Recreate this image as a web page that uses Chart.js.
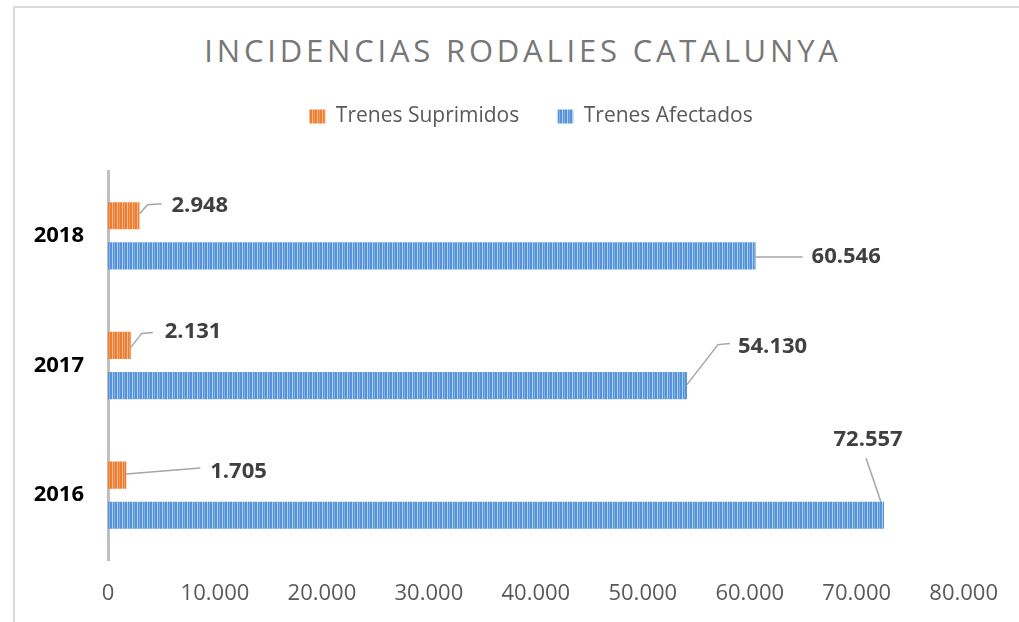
<!DOCTYPE html>
<html>
<head>
<meta charset="utf-8">
<script src="https://cdn.jsdelivr.net/npm/chart.js@4.4.1/dist/chart.umd.min.js"></script>
<style>
  html, body { margin: 0; padding: 0; background: #fff; overflow: hidden; }
  #wrap { position: relative; width: 1019px; height: 622px; overflow: hidden; }
  #frame { position: absolute; left: 13px; top: 6px; width: 1100px; height: 700px; border: 2px solid #dcdcdc; }
  #title {
    position: absolute; left: 0; top: 35px; width: 1046px; text-align: center;
    font-family: 'Open Sans', sans-serif; font-size: 31px; line-height: 31px;
    letter-spacing: 3.8px; color: #777777;
  }
  #c { position: absolute; left: 0; top: 0; }
</style>
</head>
<body>
<div id="wrap">
  <div id="frame"></div>
  <div id="title">INCIDENCIAS RODALIES CATALUNYA</div>
  <canvas id="c" width="1019" height="622"></canvas>
</div>
<script>
// data
const years = ['2018', '2017', '2016'];
const trenesSuprimidos = [2948, 2131, 1705];
const trenesAfectados = [60546, 54130, 72557];
const xTicks = [0, 10000, 20000, 30000, 40000, 50000, 60000, 70000, 80000];

const fmt = (v) => String(v).replace(/\B(?=(\d{3})+(?!\d))/g, '.');

Chart.defaults.font.family = "'Open Sans', sans-serif";

const ctx = document.getElementById('c').getContext('2d');

// vertical stripe fill like the original bars
const stripes = (base, light, mid) => {
  const c = document.createElement('canvas');
  c.width = 5;
  c.height = 1;
  const g = c.getContext('2d');
  g.fillStyle = base;
  g.fillRect(0, 0, 5, 1);
  g.fillStyle = light;
  g.fillRect(2, 0, 1, 1);
  g.fillStyle = mid;
  g.fillRect(4, 0, 1, 1);
  return ctx.createPattern(c, 'repeat');
};

const orangeFill = stripes('#ed7d31', '#f8bd92', '#f19a5c');
const blueFill = stripes('#5592d6', '#b0d2f2', '#7fb1e6');

// label placement relative to bar end (dx, dy) plus leader line points
const labelPos = [
  [
    { dx: 32, dy: -10, align: 'left', line: [[0, -2], [8, -11], [22, -12]] },
    { dx: 34, dy: -14, align: 'left', line: [[0, 2], [11, -12], [22, -13]] },
    { dx: 84, dy: -3, align: 'left', line: [[0, -1], [74, -7]] },
  ],
  [
    { dx: 56, dy: 1, align: 'left', line: [[0, 1], [47, 1]] },
    { dx: 51, dy: -39, align: 'left', line: [[0, -1], [31, -41], [43, -42]] },
    { dx: -16, dy: -76, align: 'center', line: [[-3, -13], [-18, -57]] },
  ],
];

const dataLabels = {
  id: 'dataLabels',
  afterDatasetsDraw(chart) {
    const c = chart.ctx;
    c.save();
    chart.data.datasets.forEach((ds, di) => {
      chart.getDatasetMeta(di).data.forEach((bar, i) => {
        const p = labelPos[di][i];
        c.strokeStyle = '#a6a6a6';
        c.lineWidth = 1.5;
        c.beginPath();
        p.line.forEach(([lx, ly], k) => {
          if (k === 0) c.moveTo(bar.x + lx, bar.y + ly);
          else c.lineTo(bar.x + lx, bar.y + ly);
        });
        c.stroke();
        c.fillStyle = '#404040';
        c.font = "bold 22px 'Open Sans', sans-serif";
        c.textAlign = p.align;
        c.textBaseline = 'middle';
        c.fillText(fmt(ds.data[i]), bar.x + p.dx, bar.y + p.dy);
      });
    });
    c.restore();
  },
};

// extra room between legend and plot, legend centred a bit right
const legendGap = {
  id: 'legendGap',
  beforeInit(chart) {
    const fit = chart.legend.fit;
    chart.legend.fit = function () {
      fit.bind(chart.legend)();
      this.height += 34;
    };
  },
  afterLayout(chart) {
    chart.legend.left = 91;
  },
};

new Chart(ctx, {
  type: 'bar',
  data: {
    labels: years,
    datasets: [
      {
        label: 'Trenes Suprimidos',
        data: trenesSuprimidos,
        backgroundColor: orangeFill,
        categoryPercentage: 0.62,
        barPercentage: 0.675,
      },
      {
        label: 'Trenes Afectados',
        data: trenesAfectados,
        backgroundColor: blueFill,
        categoryPercentage: 0.62,
        barPercentage: 0.675,
      },
    ],
  },
  options: {
    indexAxis: 'y',
    responsive: false,
    animation: false,
    layout: { padding: { left: 20, right: 48, top: 68, bottom: 0 } },
    plugins: {
      legend: {
        position: 'top',
        labels: {
          boxWidth: 16,
          boxHeight: 14,
          padding: 38,
          color: '#595959',
          font: { size: 21 },
        },
      },
      tooltip: { enabled: false },
    },
    scales: {
      x: {
        min: 0,
        max: 80000,
        afterBuildTicks: (scale) => {
          scale.ticks = xTicks.map((v) => ({ value: v }));
        },
        afterFit: (scale) => {
          scale.height = 62;
        },
        grid: { display: false, drawTicks: false },
        border: { display: false },
        ticks: {
          padding: 21,
          color: '#595959',
          font: { size: 22 },
          maxRotation: 0,
          callback: (v) => fmt(v),
        },
      },
      y: {
        afterFit: (scale) => {
          scale.width = 88;
        },
        grid: { display: false, drawTicks: false },
        border: { display: true, color: '#bfbfbf', width: 3 },
        ticks: {
          padding: 24,
          color: '#000',
          font: { size: 22, weight: 'bold' },
        },
      },
    },
  },
  plugins: [dataLabels, legendGap],
});
</script>
</body>
</html>
